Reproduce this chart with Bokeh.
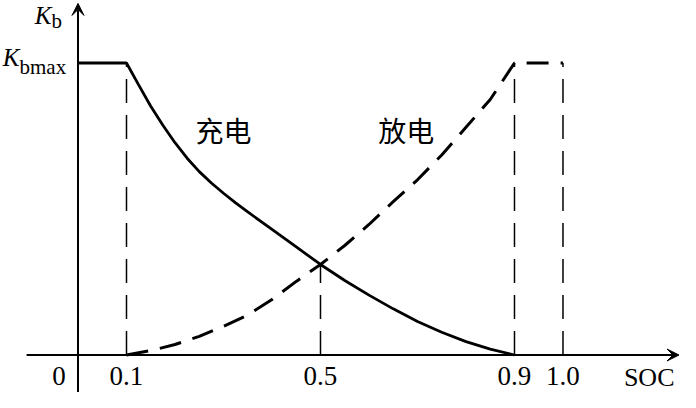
from bokeh.plotting import figure
from bokeh.models import Range1d, Arrow, VeeHead
from bokeh.core.properties import value
from bokeh.embed import file_html
from bokeh.resources import INLINE

# ---- data ----
charge_soc = [0.0, 0.1, 0.125, 0.15, 0.175, 0.2, 0.225, 0.25, 0.275, 0.3, 0.325, 0.35, 0.4, 0.45,
              0.5, 0.55, 0.6, 0.65, 0.7, 0.75, 0.8, 0.85, 0.9]
charge_kb = [1.0, 1.0, 0.925, 0.852, 0.787, 0.727, 0.674, 0.628, 0.589, 0.554, 0.521, 0.49, 0.43, 0.37,
             0.31, 0.255, 0.205, 0.158, 0.115, 0.078, 0.046, 0.02, 0.0]

discharge_soc = [0.1, 0.15, 0.2, 0.25, 0.3, 0.35, 0.4, 0.45, 0.5, 0.55, 0.6, 0.65, 0.7, 0.75,
                 0.8, 0.85, 0.9, 1.0]
discharge_kb = [0.0, 0.015, 0.036, 0.064, 0.098, 0.137, 0.19, 0.252, 0.31, 0.375, 0.447, 0.525,
                0.60, 0.685, 0.78, 0.875, 1.0, 1.0]

guide_soc = [0.1, 0.5, 0.9, 1.0]
guide_top = [1.0, 0.31, 1.0, 1.0]

tick_vals = [0.1, 0.5, 0.9, 1.0]
tick_labels = ["0.1", "0.5", "0.9", "1.0"]

SERIF = value("Liberation Serif")
CJK = value("Noto Sans CJK SC")

p = figure(width=680, height=392, output_backend="svg", toolbar_location=None,
           x_range=Range1d(-0.1598, 1.2423), y_range=Range1d(-0.1284, 1.2140),
           x_axis_location=None, y_axis_location=None, min_border=0,
           outline_line_color=None)
p.xgrid.visible = False
p.ygrid.visible = False
p.background_fill_color = "white"

# axes with arrows
p.add_layout(Arrow(end=VeeHead(size=12, fill_color="black", line_color="black", line_width=1),
                   x_start=-0.106, y_start=0.0, x_end=1.2392, y_end=0.0,
                   line_color="black", line_width=2))
p.add_layout(Arrow(end=VeeHead(size=12, fill_color="black", line_color="black", line_width=1),
                   x_start=0.0, y_start=-0.2, x_end=0.0, y_end=1.204,
                   line_color="black", line_width=2))

# guides
p.segment(x0=guide_soc, y0=[0] * len(guide_soc), x1=guide_soc, y1=guide_top,
          line_color="black", line_width=1.5, line_dash="24 12")

# curves
p.line(charge_soc, charge_kb, line_color="black", line_width=2.8)
p.line(discharge_soc, discharge_kb, line_color="black", line_width=3, line_dash="22 12")

# tick labels
p.text(x=tick_vals, y=[-0.0736] * len(tick_vals), text=tick_labels, text_font=SERIF,
       text_font_size="27px", text_align="center", text_baseline="middle", text_color="black")
p.text(x=[-0.0392], y=[-0.0736], text=["0"], text_font=SERIF, text_font_size="27px",
       text_align="center", text_baseline="middle", text_color="black")
p.text(x=[1.2299], y=[-0.077], text=["SOC"], text_font=SERIF, text_font_size="26px",
       text_align="right", text_baseline="middle", text_color="black")

# y labels
p.text(x=[-0.1206], y=[1.0205], text=["K"], text_font=SERIF, text_font_style="italic",
       text_font_size="25px", text_align="right", text_baseline="middle", text_color="black")
p.text(x=[-0.1206], y=[0.9846], text=["bmax"], text_font=SERIF,
       text_font_size="21px", text_align="left", text_baseline="middle", text_color="black")
p.text(x=[-0.0546], y=[1.1627], text=["K"], text_font=SERIF, text_font_style="italic",
       text_font_size="25px", text_align="right", text_baseline="middle", text_color="black")
p.text(x=[-0.0546], y=[1.1438], text=["b"], text_font=SERIF,
       text_font_size="21px", text_align="left", text_baseline="middle", text_color="black")

# curve names
p.text(x=[0.300, 0.677], y=[0.769, 0.769], text=["充电", "放电"], text_font=CJK,
       text_font_size="28px", text_align="center", text_baseline="middle", text_color="black")

open("out.html", "w").write(file_html(p, INLINE))
